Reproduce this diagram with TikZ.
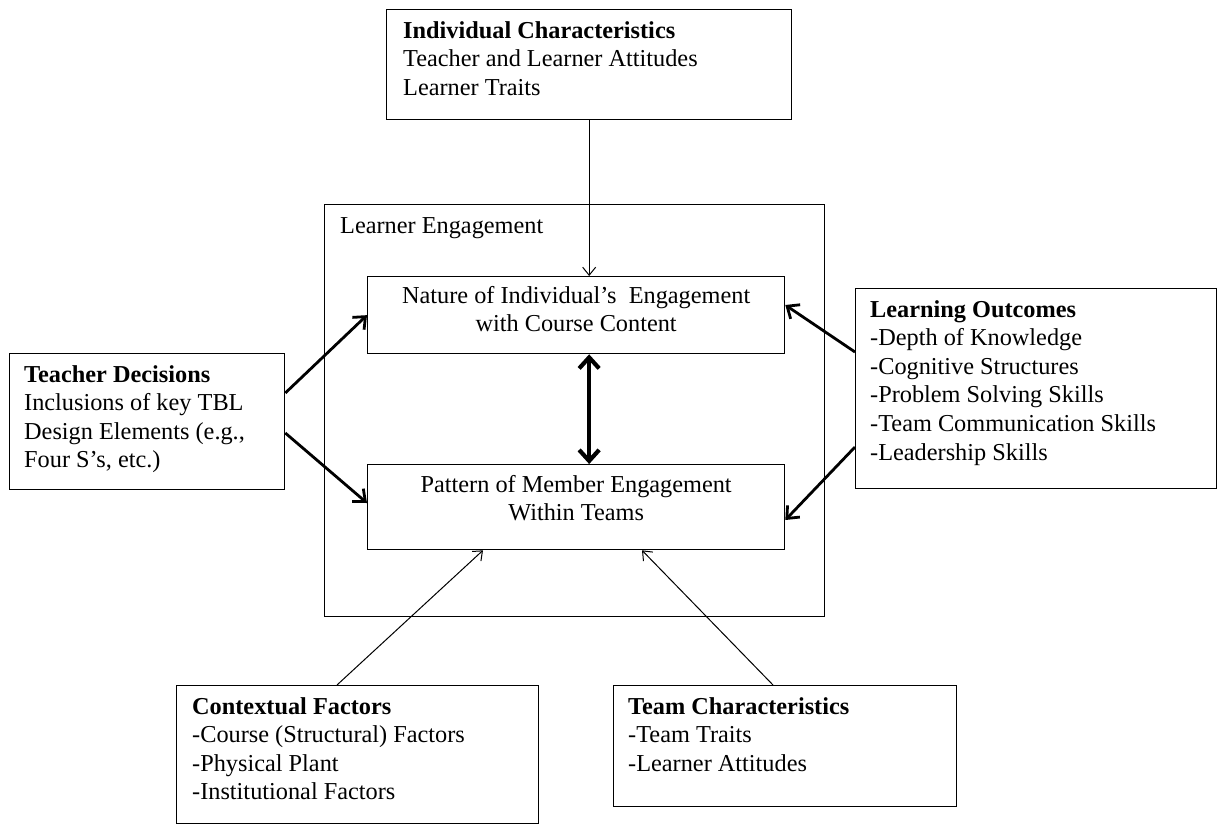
\documentclass[tikz,border=0pt]{standalone}
\usepackage{fontspec}
\setmainfont{Liberation Serif}
\usetikzlibrary{arrows.meta,calc}
\begin{document}
\begin{tikzpicture}[x=1bp,y=-1bp,
  box/.style={draw, line width=1.3bp, inner sep=0, anchor=north west},
  txt/.style={inner sep=0, anchor=base west, align=left, font=\fontsize{24.3bp}{28.6bp}\selectfont},
  ctxt/.style={inner sep=0, anchor=base, align=center, font=\fontsize{24.3bp}{28.6bp}\selectfont},
  thinarrow/.style={line width=1bp, -{Straight Barb[length=8bp,width=13bp]}},
  thickarrow/.style={line width=2.8bp, -{Straight Barb[length=10bp,width=17bp]}},
  dblarrow/.style={line width=4.2bp, {Straight Barb[length=11bp,width=20bp]}-{Straight Barb[length=11bp,width=20bp]}}
]
\useasboundingbox (0,0) rectangle (1217,825);
% boxes
\node[box, minimum width=405bp, minimum height=110bp] (ic) at (386,9) {};
\node[box, minimum width=500bp, minimum height=412bp] (le) at (324,204) {};
\node[box, minimum width=417bp, minimum height=77bp] (nat) at (367,276) {};
\node[box, minimum width=417bp, minimum height=85bp] (pat) at (367,464) {};
\node[box, minimum width=275bp, minimum height=136bp] (td) at (9,353) {};
\node[box, minimum width=361bp, minimum height=200bp] (lo) at (855,288) {};
\node[box, minimum width=362bp, minimum height=138bp] (cf) at (176,685) {};
\node[box, minimum width=343bp, minimum height=121bp] (tc) at (613,685) {};
% texts (base anchor = baseline of the last line)
\node[txt] (icT) at ($(ic.north west)+(17,86.2)$) {\textbf{Individual Characteristics}\\Teacher and Learner Attitudes\\Learner Traits};
\node[txt] (leT) at ($(le.north west)+(16,29)$) {Learner Engagement};
\node[ctxt] (natT) at ($(nat.north)+(0,55.6)$) {Nature of Individual’s~ Engagement\\with Course Content};
\node[ctxt] (patT) at ($(pat.north)+(0,56.6)$) {Pattern of Member Engagement\\Within Teams};
\node[txt] (tdT) at ($(td.north west)+(15,114.8)$) {\textbf{Teacher Decisions}\\Inclusions of key TBL\\Design Elements (e.g.,\\Four S’s, etc.)};
\node[txt] (loT) at ($(lo.north west)+(15,172)$) {\textbf{Learning Outcomes}\\-Depth of Knowledge\\-Cognitive Structures\\-Problem Solving Skills\\-Team Communication Skills\\-Leadership Skills};
\node[txt] (cfT) at ($(cf.north west)+(16,114.8)$) {\textbf{Contextual Factors}\\-Course (Structural) Factors\\-Physical Plant\\-Institutional Factors};
\node[txt] (tcT) at ($(tc.north west)+(15,86.2)$) {\textbf{Team Characteristics}\\-Team Traits\\-Learner Attitudes};
% connectors
\draw[thinarrow] (ic.south) -- (ic.south |- nat.north);
\draw[dblarrow] (ic.south |- nat.south) -- (ic.south |- pat.north);
\draw[thickarrow] ($(td.north east)+(0,40)$) -- (nat.west);
\draw[thickarrow] ($(td.north east)+(0,80)$) -- ($(pat.north west)+(0,39)$);
\draw[thickarrow] ($(lo.north west)+(0,64)$) -- ($(nat.north east)+(0,29)$);
\draw[thickarrow] ($(lo.north west)+(0,159)$) -- ($(pat.north east)+(0,56)$);
\draw[thinarrow] ($(cf.north west)+(161,0)$) -- ($(pat.south west)+(116,0)$);
\draw[thinarrow] ($(tc.north west)+(160,0)$) -- ($(pat.south west)+(275,0)$);
\end{tikzpicture}
\end{document}
